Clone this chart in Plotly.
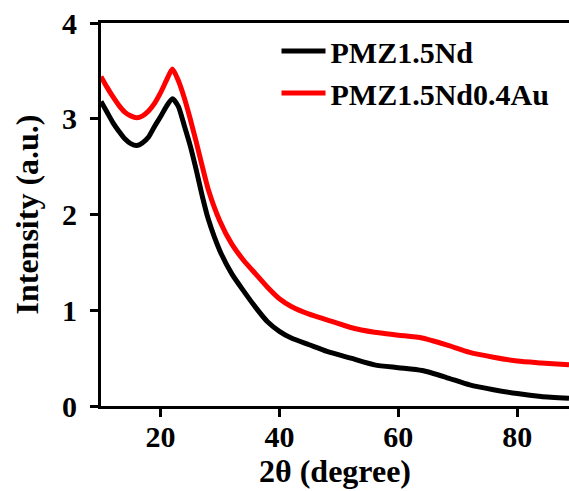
import plotly.graph_objects as go

# ======================================================
# Data
# ======================================================
two_theta = [10, 11, 12, 13, 14, 15, 16, 17, 18, 19, 20, 21, 22, 23, 24, 25, 26, 27, 28,
             30, 32, 34, 36, 38, 40, 42, 45, 48, 52, 56, 60, 64, 68, 72, 76, 80, 84, 88.7]

pmz_nd = [3.18, 3.07, 2.96, 2.87, 2.79, 2.74, 2.72, 2.75, 2.81, 2.92, 3.02, 3.13, 3.21,
          3.13, 2.93, 2.72, 2.47, 2.20, 1.96, 1.62, 1.38, 1.20, 1.03, 0.88, 0.78, 0.71,
          0.64, 0.57, 0.50, 0.43, 0.40, 0.37, 0.30, 0.22, 0.17, 0.13, 0.10, 0.08]

pmz_nd_au = [3.44, 3.33, 3.23, 3.14, 3.07, 3.03, 3.01, 3.03, 3.08, 3.16, 3.27, 3.40, 3.52,
             3.40, 3.22, 3.00, 2.76, 2.51, 2.27, 1.93, 1.69, 1.52, 1.38, 1.24, 1.12, 1.04,
             0.96, 0.90, 0.82, 0.77, 0.74, 0.71, 0.64, 0.56, 0.51, 0.47, 0.45, 0.43]

names = ["PMZ1.5Nd", "PMZ1.5Nd0.4Au"]
colors = ["black", "red"]

x_ticks = [20, 40, 60, 80]
y_ticks = [0, 1, 2, 3, 4]

FONT = "Liberation Serif"


# ======================================================
# Plot
# ======================================================
fig = go.Figure()
for name, ys, col in zip(names, [pmz_nd, pmz_nd_au], colors):
    fig.add_trace(go.Scatter(x=two_theta, y=ys, mode="lines", name=name,
                             line=dict(color=col, width=5, shape="spline", smoothing=0.6)))

bold = lambda size: dict(family=FONT, size=size, color="black", weight="bold")

axis_style = dict(showline=True, linewidth=3, linecolor="black", showgrid=False,
                  zeroline=False, ticks="outside", ticklen=8, tickwidth=3,
                  tickcolor="black", tickfont=bold(30))

fig.update_xaxes(range=[10, 88.7], tickvals=x_ticks, mirror=True, ticklabelstandoff=-6,
                 title=dict(text="2θ (degree)", font=bold(32), standoff=2),
                 **axis_style)
fig.update_yaxes(range=[0, 4], tickvals=y_ticks, ticklabelstandoff=7,
                 title=dict(text="Intensity (a.u.)", font=bold(32), standoff=14),
                 **axis_style)

fig.update_layout(
    width=569, height=491,
    margin=dict(l=101, r=0, t=23, b=85),
    plot_bgcolor="white", paper_bgcolor="white",
    font=dict(family=FONT, color="black"),
    showlegend=True,
    legend=dict(x=0.375, y=0.995, xanchor="left", yanchor="top", bgcolor="rgba(0,0,0,0)",
                font=bold(30), itemwidth=44, tracegroupgap=0),
)

# page has a default body margin; drop it so the figure sits at the corner
fig.write_html("out.html", config={"displayModeBar": False},
               post_script="document.body.style.margin='0';")
